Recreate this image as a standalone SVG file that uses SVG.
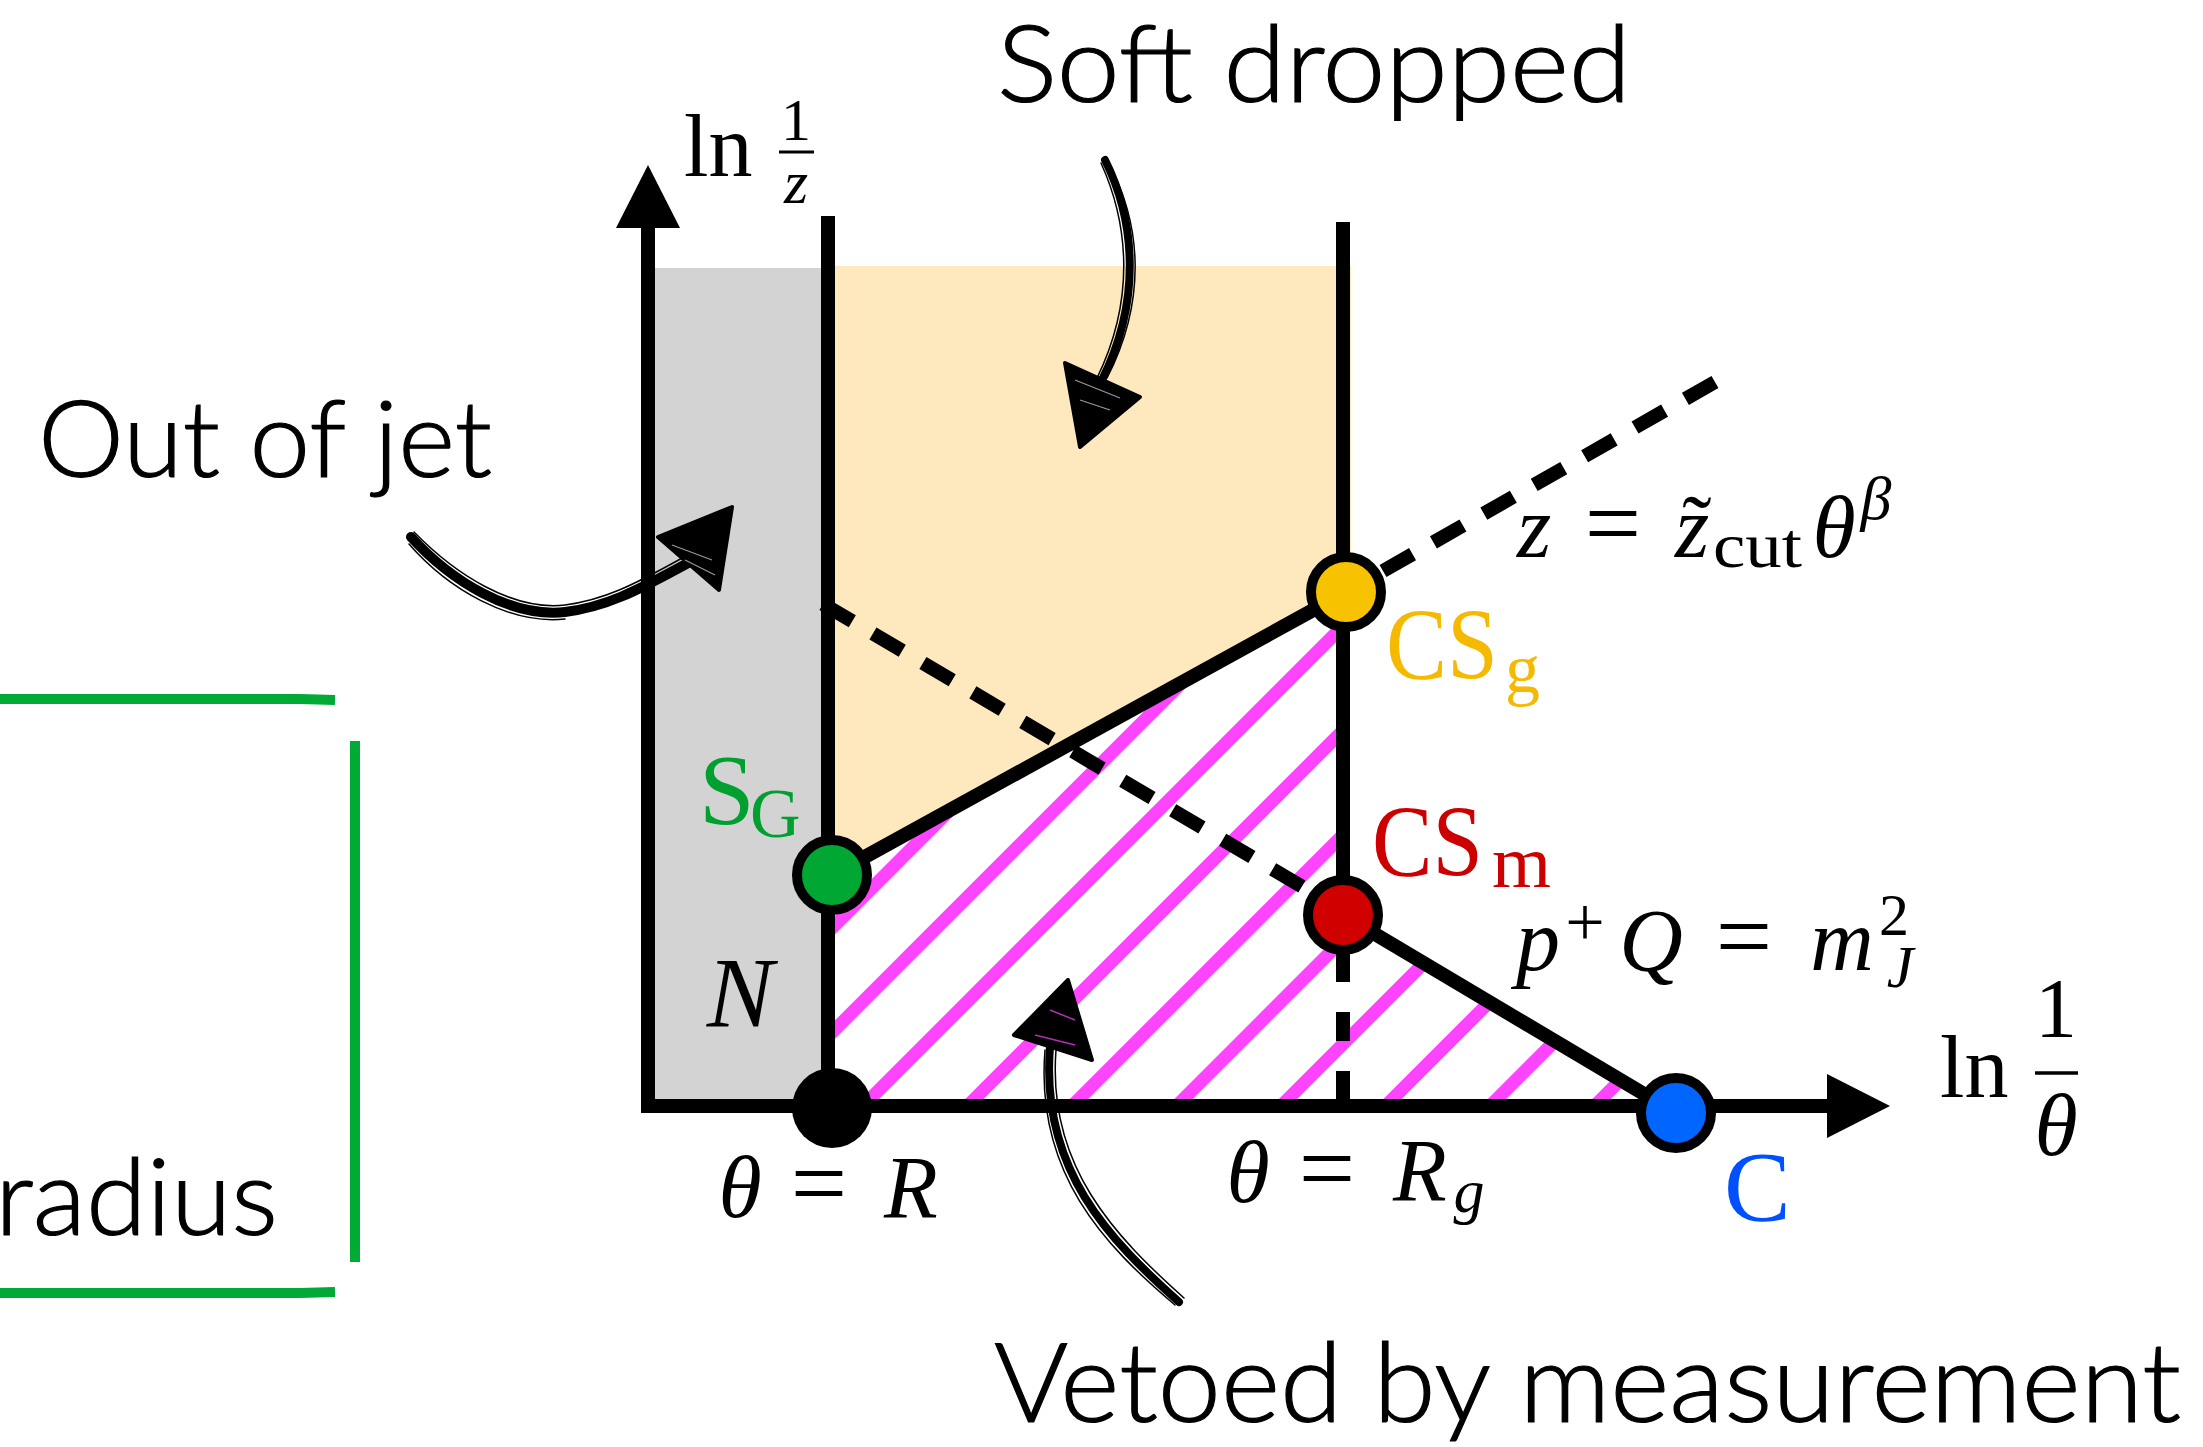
<svg xmlns="http://www.w3.org/2000/svg" width="2203" height="1447" viewBox="0 0 2203 1447">
<style>
.sans{font-family:Lato,"Open Sans","Liberation Sans",sans-serif;font-weight:300;fill:#000;stroke:#000;stroke-width:1.2}
.m{font-family:"Liberation Serif","DejaVu Serif",serif;fill:#000}
.i{font-style:italic}
.ln{stroke:#000;stroke-width:14;fill:none}
.dash{stroke:#000;stroke-width:14;fill:none;stroke-dasharray:34 24}
.hatch{stroke:#FF44FF;stroke-width:13}
.node{stroke:#000;stroke-width:10}
.brush{stroke:#000;fill:none;stroke-linecap:round;stroke-linejoin:round}
.gb{stroke:#00AA35;fill:none;stroke-linecap:butt}
</style>
<defs>
<clipPath id="hclip"><polygon points="832,1106 832,875 1343,592 1343,915 1676,1113 1676,1106"/></clipPath>
</defs>
<rect width="2203" height="1447" fill="#fff"/>

<g id="regions">
<rect id="out-of-jet-region" x="648" y="268" width="180" height="838" fill="#D3D3D3"/>
<polygon id="soft-dropped-region" points="828,266 1351,266 1351,592 832,875" fill="#FEE8BD"/>
<g id="vetoed-region" clip-path="url(#hclip)">
<line class="hatch" x1="610" y1="1150" x2="1210" y2="550"/>
<line class="hatch" x1="714.5" y1="1150" x2="1314.5" y2="550"/>
<line class="hatch" x1="819" y1="1150" x2="1419" y2="550"/>
<line class="hatch" x1="923.5" y1="1150" x2="1523.5" y2="550"/>
<line class="hatch" x1="1028" y1="1150" x2="1628" y2="550"/>
<line class="hatch" x1="1132.5" y1="1150" x2="1732.5" y2="550"/>
<line class="hatch" x1="1237" y1="1150" x2="1837" y2="550"/>
<line class="hatch" x1="1341.5" y1="1150" x2="1941.5" y2="550"/>
<line class="hatch" x1="1446" y1="1150" x2="2046" y2="550"/>
<line class="hatch" x1="1550.5" y1="1150" x2="2150.5" y2="550"/>
</g>
</g>

<g id="connectors">
<path class="dash" d="M823,604 L1335,906"/>
<path class="dash" d="M1383,571 L1715,382"/>
<path class="ln" d="M1343,953 L1343,1099" style="stroke-dasharray:29 30"/>
<path class="ln" d="M828,216 L828,1106"/>
<path class="ln" d="M1343,222 L1343,915"/>
<path class="ln" d="M832,875 L1346,592"/>
<path class="ln" d="M1343,915 L1676,1113"/>
<path id="axes" class="ln" d="M648,226 L648,1106 L1828,1106" style="stroke-linejoin:miter"/>
<polygon points="648,165 680,228 616,228" fill="#000"/>
<polygon points="1890,1106 1827,1074 1827,1138" fill="#000"/>
</g>

<g id="node-origin"><circle cx="832" cy="1108" r="40" fill="#000"/></g>
<g id="node-SG"><circle class="node" cx="832" cy="875" r="35" fill="#00A833"/></g>
<g id="node-CSg"><circle class="node" cx="1346" cy="592" r="35" fill="#F7C200"/></g>
<g id="node-CSm"><circle class="node" cx="1343" cy="915" r="35" fill="#D00000"/></g>
<g id="node-C"><circle class="node" cx="1676" cy="1113" r="35" fill="#0066FF"/></g>

<g id="labels-math">
<text class="m" x="684" y="176" font-size="88">ln</text>
<text class="m" x="796" y="140" font-size="60" text-anchor="middle">1</text>
<line x1="779" y1="152" x2="814" y2="152" stroke="#000" stroke-width="3"/>
<text class="m i" x="796" y="203" font-size="62" text-anchor="middle">z</text>

<text class="m" x="1940" y="1097" font-size="88">ln</text>
<text class="m" x="2056" y="1037" font-size="84" text-anchor="middle">1</text>
<line x1="2035" y1="1073" x2="2078" y2="1073" stroke="#000" stroke-width="3.5"/>
<text class="m i" x="2056" y="1155" font-size="88" text-anchor="middle">θ</text>

<text class="m i" x="740" y="1026" font-size="100" text-anchor="middle">N</text>

<text class="m i" x="740" y="1217" font-size="88" text-anchor="middle">θ</text>
<text class="m" x="819" y="1217" font-size="100" text-anchor="middle">=</text>
<text class="m i" x="911" y="1217" font-size="88" text-anchor="middle">R</text>

<text class="m i" x="1248" y="1202" font-size="88" text-anchor="middle">θ</text>
<text class="m" x="1327" y="1202" font-size="100" text-anchor="middle">=</text>
<text class="m i" x="1420" y="1200" font-size="88" text-anchor="middle">R</text>
<text class="m i" x="1469" y="1212" font-size="62" text-anchor="middle">g</text>

<text class="m i" x="1534" y="557" font-size="88" text-anchor="middle">z</text>
<text class="m" x="1613" y="557" font-size="100" text-anchor="middle">=</text>
<text class="m i" x="1692" y="557" font-size="88" text-anchor="middle">z</text>
<text class="m" x="1697" y="557" font-size="88" text-anchor="middle">˜</text>
<text class="m" x="1713" y="567" font-size="64" textLength="89" lengthAdjust="spacingAndGlyphs">cut</text>
<text class="m i" x="1834" y="557" font-size="88" text-anchor="middle">θ</text>
<text class="m i" x="1876" y="519" font-size="62" text-anchor="middle">β</text>

<text class="m i" x="1538" y="970" font-size="88" text-anchor="middle">p</text>
<text class="m" x="1585" y="946" font-size="70" text-anchor="middle">+</text>
<text class="m i" x="1651" y="970" font-size="88" text-anchor="middle">Q</text>
<text class="m" x="1744" y="970" font-size="100" text-anchor="middle">=</text>
<text class="m i" x="1842" y="970" font-size="88" text-anchor="middle">m</text>
<text class="m" x="1894" y="935" font-size="60" text-anchor="middle">2</text>
<text class="m i" x="1900" y="987" font-size="60" text-anchor="middle">J</text>
</g>

<g id="labels-nodes">
<text class="m" x="1386" y="679" font-size="102" style="fill:#F5B900" textLength="112" lengthAdjust="spacingAndGlyphs">CS</text>
<text class="m" x="1505" y="692" font-size="70" style="fill:#F5B900">g</text>
<text class="m" x="1372" y="876" font-size="102" style="fill:#CC0000" textLength="111" lengthAdjust="spacingAndGlyphs">CS</text>
<text class="m" x="1492" y="887" font-size="75" style="fill:#CC0000" textLength="59" lengthAdjust="spacingAndGlyphs">m</text>
<text class="m" x="699" y="823" font-size="100" style="fill:#00A030">S</text>
<text class="m" x="750" y="837" font-size="70" style="fill:#00A030">G</text>
<text class="m" x="1724" y="1220" font-size="100" style="fill:#0050FF">C</text>
</g>

<g id="labels-text">
<text class="sans" x="997" y="102" font-size="107" textLength="634" lengthAdjust="spacingAndGlyphs">Soft dropped</text>
<text class="sans" x="38" y="477" font-size="107" textLength="454" lengthAdjust="spacingAndGlyphs">Out of jet</text>
<text class="sans" x="994" y="1422" font-size="110" textLength="1187" lengthAdjust="spacingAndGlyphs">Vetoed by measurement</text>
<text class="sans" x="-5" y="1235" font-size="107" textLength="283" lengthAdjust="spacingAndGlyphs">radius</text>
</g>

<g id="green-box">
<path class="gb" d="M0,699 L300,699 L335,700" stroke-width="10"/>
<path class="gb" d="M0,695 L320,696" stroke-width="2" opacity="0.5"/>
<path class="gb" d="M355,741 L355,1262" stroke-width="10"/>
<path class="gb" d="M351,760 L352,1240" stroke-width="2" opacity="0.5"/>
<path class="gb" d="M0,1293 L300,1293 L335,1292" stroke-width="10"/>
<path class="gb" d="M0,1297 L320,1296" stroke-width="2" opacity="0.5"/>
</g>

<g id="arrows">
<g id="arrow-soft">
<path class="brush" d="M1105,160 C1135,220 1142,300 1102,380" stroke-width="8"/>
<path class="brush" d="M1101,163 C1129,225 1135,300 1097,378" stroke-width="1.5"/>
<path class="brush" d="M1110,166 C1141,225 1147,300 1107,378" stroke-width="1.5"/>
<polygon points="1065,363 1140,397 1080,447" fill="#000" stroke="#000" stroke-width="4" stroke-linejoin="round"/>
<path d="M1075,380 L1120,398 M1080,400 L1110,410" stroke="#fff" stroke-width="1.2" opacity="0.6"/>
</g>
<g id="arrow-out">
<path class="brush" d="M411,537 C450,580 510,618 565,612 C605,607 635,592 688,563" stroke-width="10"/>
<path class="brush" d="M414,532 C455,574 512,611 565,605 C603,600 632,586 684,557" stroke-width="1.5"/>
<path class="brush" d="M409,544 C448,589 510,625 565,619" stroke-width="1.5"/>
<polygon points="658,537 719,590 732,507" fill="#000" stroke="#000" stroke-width="4" stroke-linejoin="round"/>
<path d="M672,545 L712,560 M685,560 L715,575" stroke="#fff" stroke-width="1.2" opacity="0.6"/>
</g>
<g id="arrow-veto">
<path class="brush" d="M1179,1302 C1110,1240 1040,1170 1050,1047" stroke-width="8"/>
<path class="brush" d="M1175,1305 C1104,1245 1035,1173 1045,1050" stroke-width="1.5"/>
<path class="brush" d="M1184,1298 C1116,1237 1047,1167 1056,1050" stroke-width="1.5"/>
<polygon points="1014,1035 1092,1060 1068,980" fill="#000" stroke="#000" stroke-width="4" stroke-linejoin="round"/>
<path d="M1035,1035 L1075,1045 M1050,1010 L1075,1020" stroke="#FF44FF" stroke-width="1.5" opacity="0.7"/>
</g>
</g>
</svg>
